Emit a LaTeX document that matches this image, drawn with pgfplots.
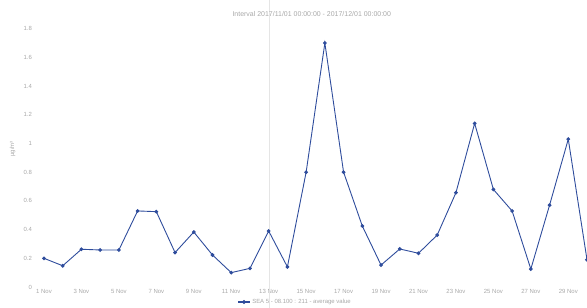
\documentclass[border=0pt]{standalone}
\usepackage{pgfplots}
\pgfplotsset{compat=1.18}
\usepackage{fontspec}
\setmainfont{Liberation Sans}
\definecolor{lineblue}{HTML}{2E4C9C}
\definecolor{txt}{HTML}{A8A8A8}
\begin{document}
\begin{tikzpicture}
\useasboundingbox (-36.5bp,-21bp) rectangle (550.5bp,287bp);
\begin{axis}[
  at={(0,0)}, anchor=south west,
  scale only axis,
  width=550.5bp, height=265.5bp,
  xmin=0.6, xmax=30, ymin=0, ymax=1.85,
  axis line style={draw=none},
  major tick length=0pt,
  clip=false,
  xtick={1,3,...,29},
  xticklabels={1 Nov,3 Nov,5 Nov,7 Nov,9 Nov,11 Nov,13 Nov,15 Nov,17 Nov,19 Nov,21 Nov,23 Nov,25 Nov,27 Nov,29 Nov},
  ytick={0,0.2,...,1.8},
  yticklabels={0,0.2,0.4,0.6,0.8,1,1.2,1.4,1.6,1.8},
  /pgf/number format/assume math mode=true,
  tick label style={font=\fontsize{6}{7}\selectfont, text=txt},
  xticklabel style={yshift=1bp},
  yticklabel style={xshift=-1bp},
  ylabel={µg/m³},
  ylabel style={font=\fontsize{6}{7}\selectfont, text=txt, at={(-24bp,0.52)}, anchor=center},
  title={Interval 2017/11/01 00:00:00 - 2017/12/01 00:00:00},
  title style={font=\fontsize{7}{8}\selectfont, text=txt, at={(0.5,1)}, anchor=center, yshift=1.5bp},
  legend style={at={(0.47,0)}, anchor=center, yshift=-15bp, draw=none, fill=none,
    font=\fontsize{6}{7}\selectfont, text=txt, legend cell align=left},
  legend image code/.code={\draw[lineblue, line width=1.2pt] (0mm,0mm) -- (4mm,0mm); \fill[lineblue] (2mm,0mm) circle (1.6bp);},
]
\draw[black!10, line width=1bp] (axis cs:13.07,-0.16) -- (axis cs:13.07,2.01);
\addplot[lineblue, line width=0.9pt, mark=*, mark size=1.4bp, mark options={fill=lineblue}] coordinates {
(1,0.20) (2,0.148) (3,0.263) (4,0.258) (5,0.258) (6,0.53) (7,0.525) (8,0.24)
(9,0.383) (10,0.223) (11,0.10) (12,0.13) (13,0.39) (14,0.14) (15,0.80)
(16,1.70) (17,0.80) (18,0.425) (19,0.153) (20,0.265) (21,0.235) (22,0.362)
(23,0.657) (24,1.14) (25,0.68) (26,0.53) (27,0.125) (28,0.57) (29,1.03) (30,0.19)
};
\addlegendentry{SEA 5 - 08.100 : 211 - average value}
\end{axis}
\end{tikzpicture}
\end{document}
